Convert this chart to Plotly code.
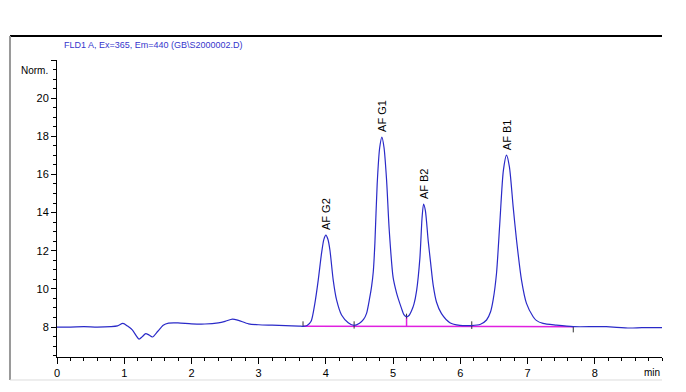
import plotly.graph_objects as go

# Chromatogram trace (time in min, signal in Norm.)
time_min = [0.0, 0.2, 0.4, 0.6, 0.8, 0.9, 0.98, 1.05, 1.12, 1.22, 1.27, 1.32, 1.37, 1.42, 1.5, 1.58, 1.66,
            1.8, 2.0, 2.2, 2.4, 2.5, 2.61, 2.7, 2.85, 3.0, 3.2, 3.4, 3.6,
            3.66, 3.72, 3.78, 3.836, 3.886, 3.935, 3.97, 4.0, 4.03, 4.06, 4.109, 4.159, 4.233, 4.332, 4.42,
            4.5, 4.56, 4.605, 4.65, 4.679, 4.705, 4.729, 4.763, 4.80, 4.833, 4.865, 4.903, 4.942, 5.0,
            5.05, 5.075, 5.125, 5.16, 5.2, 5.24, 5.274, 5.31, 5.349, 5.398, 5.43, 5.453, 5.48, 5.521,
            5.56, 5.596, 5.646, 5.72, 5.844, 5.993, 6.166, 6.3, 6.39, 6.45, 6.488, 6.538, 6.587, 6.64,
            6.687, 6.73, 6.786, 6.836, 6.91, 6.984, 7.083, 7.13, 7.23, 7.43, 7.68, 8.0, 8.17, 8.52, 8.7, 9.0]
signal = [8.0, 8.0, 8.02, 8.0, 8.02, 8.06, 8.19, 8.05, 7.85, 7.37, 7.5, 7.66, 7.58, 7.48, 7.78, 8.1, 8.21,
          8.22, 8.17, 8.16, 8.22, 8.3, 8.42, 8.35, 8.17, 8.12, 8.1, 8.08, 8.05,
          8.04, 8.08, 8.3, 9.24, 10.46, 11.86, 12.6, 12.82, 12.6, 12.04, 10.46, 9.42, 8.63, 8.23, 8.09,
          8.2, 8.4, 8.72, 9.5, 10.11, 10.9, 12.4, 15.5, 17.4, 17.96, 17.4, 15.7, 13.1, 10.6,
          9.8, 9.5, 8.98, 8.65, 8.54, 8.62, 8.85, 9.2, 9.9, 11.6, 13.7, 14.45, 14.1, 12.56,
          11.3, 10.2, 9.3, 8.7, 8.23, 8.09, 8.08, 8.15, 8.37, 8.8, 9.42, 10.81, 13.43, 16.2,
          17.01, 16.4, 14.3, 12.56, 10.46, 9.24, 8.54, 8.35, 8.19, 8.1, 8.02, 8.02, 8.02, 7.95, 7.97, 7.97]

# Peak labels
peak_names = ["AF G2", "AF G1", "AF B2", "AF B1"]
peak_times = [4.0, 4.833, 5.453, 6.687]
peak_heights = [12.82, 17.96, 14.45, 17.01]

# Axis ticks
x_ticks = [0, 1, 2, 3, 4, 5, 6, 7, 8]
y_ticks = [8, 10, 12, 14, 16, 18, 20, 22]
y_ticklabels = ["8", "10", "12", "14", "16", "18", "20", ""]

# Integration baseline
baseline_t = [3.66, 7.68]
baseline_v = [8.04, 8.02]

# Integration event marks (time, low, high)
mark_t = [3.66, 4.42, 5.2, 6.17, 7.68]
mark_lo = [8.04, 7.92, 8.45, 7.9, 7.72]
mark_hi = [8.3, 8.3, 8.7, 8.3, 8.02]
# drop line between G1 and B2
drop_t = 5.2
drop_lo = 8.03
drop_hi = 8.54

title_text = "FLD1 A, Ex=365, Em=440 (GB\\S2000002.D)"

sans = "Liberation Sans, Arial, sans-serif"

fig = go.Figure()
fig.add_trace(go.Scatter(x=baseline_t, y=baseline_v, mode="lines",
                         line=dict(color="#e020e0", width=1.5), hoverinfo="skip"))
fig.add_trace(go.Scatter(x=[drop_t, drop_t], y=[drop_lo, drop_hi], mode="lines",
                         line=dict(color="#e020e0", width=1.5), hoverinfo="skip"))
mx, my = [], []
for t, lo, hi in zip(mark_t, mark_lo, mark_hi):
    mx += [t, t, None]
    my += [lo, hi, None]
fig.add_trace(go.Scatter(x=mx, y=my, mode="lines", line=dict(color="#333333", width=1),
                         hoverinfo="skip"))
fig.add_trace(go.Scatter(x=time_min, y=signal, mode="lines",
                         line=dict(color="#2a2ac8", width=1.2, shape="spline", smoothing=0.7)))

for name, t, h in zip(peak_names, peak_times, peak_heights):
    fig.add_annotation(x=t, y=h, text=name, textangle=-90, showarrow=False,
                       xanchor="center", yanchor="bottom", yshift=3,
                       font=dict(family=sans, size=11, color="black"))

fig.add_annotation(xref="paper", yref="paper", x=0.008, y=1.0505, text=title_text,
                   showarrow=False, xanchor="left", yanchor="middle",
                   font=dict(family=sans, size=9, color="#3535cc"))
fig.add_annotation(xref="paper", yref="paper", x=-0.011, y=0.966, text="Norm.",
                   showarrow=False, xanchor="right", yanchor="middle",
                   font=dict(family=sans, size=10, color="black"))
fig.add_annotation(xref="paper", yref="paper", x=1.0, y=-0.053, text="min",
                   showarrow=False, xanchor="right", yanchor="middle",
                   font=dict(family=sans, size=10, color="black"))

# frame
fig.add_shape(type="line", xref="paper", yref="paper", x0=-0.0777, x1=1.0, y0=1.0808, y1=1.0808,
              line=dict(color="black", width=2))
fig.add_shape(type="line", xref="paper", yref="paper", x0=-0.0777, x1=-0.0777, y0=1.0808, y1=-0.0774,
              line=dict(color="#999999", width=2))
fig.add_shape(type="line", xref="paper", yref="paper", x0=-0.0777, x1=1.0, y0=-0.0774, y1=-0.0774,
              line=dict(color="#dddddd", width=1))

# page has an 8px body margin, so the figure is 8px smaller on each side
fig.update_layout(
    width=678, height=384, showlegend=False,
    margin=dict(l=49, r=24, t=52, b=35),
    paper_bgcolor="white", plot_bgcolor="white",
    font=dict(family=sans, size=11, color="black"),
    xaxis=dict(range=[0, 9.0], tickmode="array", tickvals=x_ticks, showgrid=False, zeroline=False,
               showline=True, linecolor="black", linewidth=1, ticks="outside", ticklen=6,
               tickcolor="black", tickfont=dict(family=sans, size=11),
               minor=dict(dtick=0.2, tick0=0, ticks="outside", ticklen=3, tickcolor="black")),
    yaxis=dict(range=[6.43, 22.0], tickmode="array", tickvals=y_ticks, ticktext=y_ticklabels,
               showgrid=False, zeroline=False, showline=True, linecolor="black", linewidth=1,
               ticks="outside", ticklen=5, tickcolor="black", tickfont=dict(family=sans, size=11),
               minor=dict(dtick=0.5, tick0=8, ticks="outside", ticklen=3, tickcolor="black")),
)

fig.write_html("out.html")
